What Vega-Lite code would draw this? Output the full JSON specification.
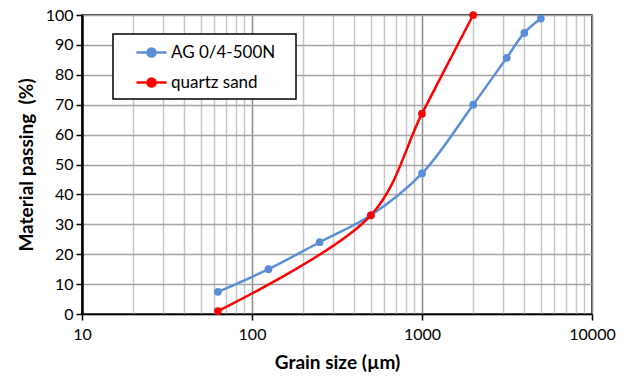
{
  "$schema": "https://vega.github.io/schema/vega-lite/v6.json",
  "autosize": {"type": "none"},
  "padding": {"left": 82, "top": 15, "right": 37, "bottom": 64},
  "width": 510,
  "height": 299,
  "background": "white",
  "config": {
    "font": "Lato",
    "view": {"stroke": "#000000", "strokeWidth": 1.5}
  },
  "data": {
    "values": [
      {"series": "AG 0/4-500N", "size": 63, "passing": 7.4},
      {"series": "AG 0/4-500N", "size": 125, "passing": 15},
      {"series": "AG 0/4-500N", "size": 250, "passing": 24},
      {"series": "AG 0/4-500N", "size": 500, "passing": 33},
      {"series": "AG 0/4-500N", "size": 1000, "passing": 47},
      {"series": "AG 0/4-500N", "size": 2000, "passing": 70},
      {"series": "AG 0/4-500N", "size": 3150, "passing": 85.7},
      {"series": "AG 0/4-500N", "size": 4000, "passing": 94},
      {"series": "AG 0/4-500N", "size": 5000, "passing": 98.8},
      {"series": "quartz sand", "size": 63, "passing": 1},
      {"series": "quartz sand", "size": 500, "passing": 33},
      {"series": "quartz sand", "size": 1000, "passing": 67},
      {"series": "quartz sand", "size": 2000, "passing": 100}
    ]
  },
  "mark": {
    "type": "line",
    "interpolate": "catmull-rom",
    "strokeWidth": 2.5,
    "point": {"filled": true, "size": 60, "opacity": 1}
  },
  "encoding": {
    "x": {
      "field": "size",
      "type": "quantitative",
      "scale": {"type": "log", "domain": [10, 10000], "nice": false},
      "title": "Grain size (µm)",
      "axis": {
        "values": [10, 20, 30, 40, 50, 60, 70, 80, 90, 100, 200, 300, 400, 500, 600, 700, 800, 900, 1000, 2000, 3000, 4000, 5000, 6000, 7000, 8000, 9000, 10000],
        "labelExpr": "(datum.value == 10 || datum.value == 100 || datum.value == 1000 || datum.value == 10000) ? datum.label : ''",
        "format": "d",
        "labelFontSize": 16,
        "labelColor": "#000000",
        "labelPadding": 6,
        "labelFlush": false,
        "labelOverlap": false,
        "domainColor": "#000000",
        "domainWidth": 1.5,
        "tickColor": "#000000",
        "tickSize": 6,
        "tickWidth": 1.5,
        "tickOpacity": {"condition": {"test": "datum.value == 10 || datum.value == 100 || datum.value == 1000 || datum.value == 10000", "value": 1}, "value": 0},
        "grid": true,
        "gridColor": {"condition": {"test": "datum.value == 10 || datum.value == 100 || datum.value == 1000 || datum.value == 10000", "value": "#8c8c8c"}, "value": "#c6c6c6"},
        "gridWidth": 1.5,
        "titleFontSize": 19,
        "titleFontWeight": "bold",
        "titleColor": "#000000",
        "titlePadding": 11
      }
    },
    "y": {
      "field": "passing",
      "type": "quantitative",
      "scale": {"domain": [0, 100], "nice": false},
      "title": "Material passing \u00a0(%)",
      "axis": {
        "values": [0, 10, 20, 30, 40, 50, 60, 70, 80, 90, 100],
        "labelFontSize": 16,
        "labelColor": "#000000",
        "labelPadding": 3,
        "domainColor": "#000000",
        "domainWidth": 2.5,
        "tickColor": "#000000",
        "tickSize": 6,
        "tickWidth": 1.5,
        "grid": true,
        "gridColor": "#a3a3a3",
        "gridWidth": 1.5,
        "titleFontSize": 19,
        "titleFontWeight": "bold",
        "titleColor": "#000000",
        "titlePadding": 9
      }
    },
    "color": {
      "field": "series",
      "type": "nominal",
      "scale": {"domain": ["AG 0/4-500N", "quartz sand"], "range": ["#5a8fd8", "#ff0000"]},
      "legend": {
        "title": null,
        "orient": "none",
        "legendX": 31,
        "legendY": 19,
        "padding": 7,
        "fillColor": "white",
        "strokeColor": "#000000",
        "cornerRadius": 0,
        "symbolType": "M0.5,0H3.5M1.6,0A0.4,0.4 0 1 0 2.4,0A0.4,0.4 0 1 0 1.6,0",
        "symbolSize": 400,
        "symbolStrokeWidth": 2.5,
        "symbolOpacity": 1,
        "labelFontSize": 17,
        "labelColor": "#000000",
        "labelOffset": 28,
        "rowPadding": 9,
        "labelLimit": 250,
        "labelExpr": "datum.label + '\u00a0\u00a0\u00a0\u200b'",
        "encode": {
          "legend": {"update": {"strokeWidth": {"value": 1.5}}},
          "symbols": {"update": {"fill": {"scale": "color", "field": "value"}, "stroke": {"scale": "color", "field": "value"}}}
        }
      }
    }
  }
}
